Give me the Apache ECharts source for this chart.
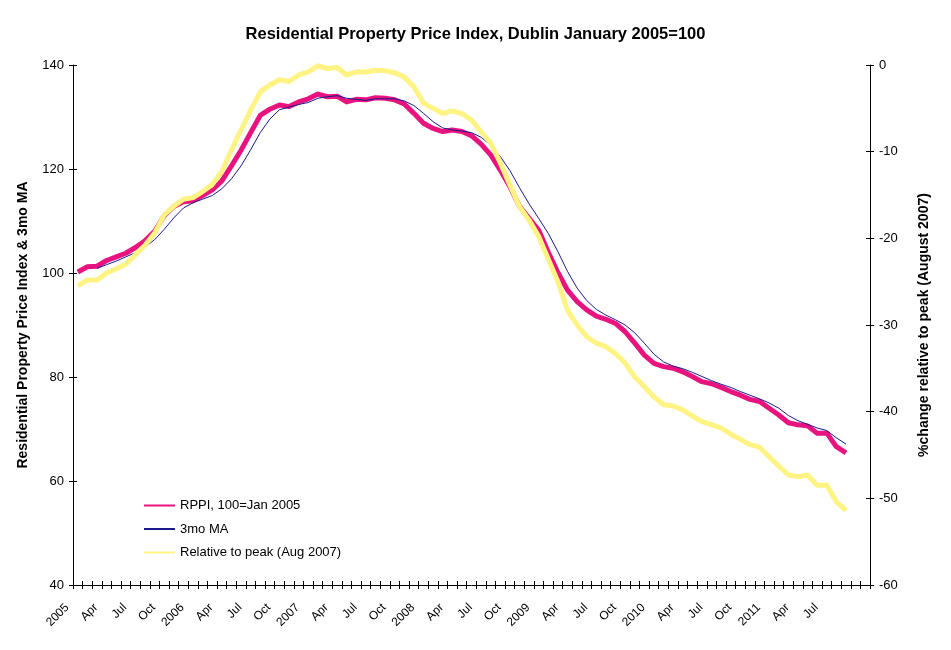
<!DOCTYPE html>
<html>
<head>
<meta charset="utf-8">
<script src="https://cdn.jsdelivr.net/npm/echarts@6/dist/echarts.min.js"></script>
<style>html,body{margin:0;padding:0;background:#fff;}#c{width:951px;height:650px;}</style>
</head>
<body>
<div id="c"></div>
<script>
var categories = [
 '2005','Feb','Mar','Apr','May','Jun','Jul','Aug','Sep','Oct','Nov','Dec',
 '2006','Feb','Mar','Apr','May','Jun','Jul','Aug','Sep','Oct','Nov','Dec',
 '2007','Feb','Mar','Apr','May','Jun','Jul','Aug','Sep','Oct','Nov','Dec',
 '2008','Feb','Mar','Apr','May','Jun','Jul','Aug','Sep','Oct','Nov','Dec',
 '2009','Feb','Mar','Apr','May','Jun','Jul','Aug','Sep','Oct','Nov','Dec',
 '2010','Feb','Mar','Apr','May','Jun','Jul','Aug','Sep','Oct','Nov','Dec',
 '2011','Feb','Mar','Apr','May','Jun','Jul','Aug','Sep','',''
];
var rppi = [
 100.2,101.2,101.3,102.4,103.1,103.8,104.9,106.2,108.0,111.0,112.8,113.7,
 113.9,114.9,116.0,117.7,120.6,123.6,127.0,130.3,131.5,132.3,132.0,132.9,
 133.5,134.4,133.9,134.0,132.9,133.4,133.3,133.7,133.6,133.3,132.5,130.7,
 128.8,127.8,127.2,127.5,127.2,126.4,124.8,122.7,119.8,116.6,112.8,110.5,
 108.2,104.0,100.1,96.7,94.5,92.9,91.7,91.1,90.3,88.7,86.5,84.2,
 82.6,82.0,81.7,81.0,80.1,79.1,78.7,78.0,77.2,76.5,75.7,75.3,
 74.0,72.7,71.2,70.8,70.6,69.2,69.2,66.6,65.4
];
var ma3 = [
 null,null,100.9,101.6,102.3,103.1,103.9,105.0,106.4,108.4,110.6,112.5,
 113.5,114.2,114.9,116.2,118.1,120.6,123.7,127.0,129.6,131.4,131.9,132.4,
 132.8,133.6,133.9,134.1,133.6,133.4,133.2,133.5,133.5,133.5,133.1,132.2,
 130.7,129.1,127.9,127.5,127.3,127.0,126.1,124.6,122.4,119.7,116.4,113.3,
 110.5,107.6,104.1,100.3,97.1,94.7,93.0,91.9,91.0,90.0,88.5,86.5,
 84.4,82.9,82.1,81.6,80.9,80.1,79.3,78.6,78.0,77.2,76.5,75.8,
 75.0,74.0,72.6,71.6,70.9,70.2,69.7,68.3,67.1
];
var relPeak = [
 -25.5,-24.8,-24.8,-24.0,-23.5,-23.0,-21.9,-20.8,-19.4,-17.3,-16.3,-15.5,
 -15.3,-14.6,-13.8,-12.3,-9.8,-7.5,-5.2,-3.1,-2.3,-1.7,-1.9,-1.15,
 -0.8,-0.1,-0.4,-0.3,-1.15,-0.8,-0.8,-0.6,-0.65,-0.9,-1.4,-2.5,
 -4.4,-5.0,-5.6,-5.3,-5.6,-6.35,-7.7,-9.0,-11.3,-13.85,-16.35,-17.9,
 -19.8,-22.4,-25.0,-28.3,-30.0,-31.35,-32.1,-32.5,-33.3,-34.4,-36.0,-37.1,
 -38.3,-39.2,-39.35,-39.8,-40.5,-41.15,-41.5,-41.9,-42.6,-43.2,-43.8,-44.1,
 -45.2,-46.3,-47.3,-47.5,-47.3,-48.5,-48.5,-50.4,-51.4
];
var seriesNames = ['RPPI, 100=Jan 2005', '3mo MA', 'Relative to peak (Aug 2007)'];

var FONT = '"Liberation Sans", Arial, sans-serif';
var chart = echarts.init(document.getElementById('c'));
var axisLine = {show: true, onZero: false, lineStyle: {color: '#000', width: 1}};
var tick = {show: true, length: 4, lineStyle: {color: '#000'}};
var gridBox = {left: 73, right: 81, top: 65, bottom: 65, containLabel: false};
chart.setOption({
  backgroundColor: '#fff',
  animation: false,
  title: {
    text: 'Residential Property Price Index, Dublin January 2005=100',
    left: 'center', top: 21,
    textStyle: {fontFamily: FONT, fontSize: 16.5, fontWeight: 'bold', color: '#000'}
  },
  legend: {
    orient: 'vertical', left: 143, top: 499, padding: 0, itemWidth: 31, itemHeight: 14, itemGap: 10.5,
    itemStyle: {opacity: 0},
    data: seriesNames,
    textStyle: {fontFamily: FONT, fontSize: 13, color: '#000'}
  },
  grid: [gridBox, Object.assign({}, gridBox)],
  xAxis: [{
    gridIndex: 0, type: 'category', data: categories, boundaryGap: true, position: 'bottom',
    axisLine: axisLine,
    axisTick: Object.assign({interval: 0}, tick),
    axisLabel: {interval: 2, rotate: 45, margin: 10, padding: [0, 15, 0, 0], fontFamily: FONT, fontSize: 12, color: '#000'},
    splitLine: {show: false}
  }, {
    gridIndex: 1, type: 'category', data: categories, boundaryGap: true, position: 'bottom',
    axisLine: {show: false, onZero: false},
    axisTick: Object.assign({interval: 0, inside: true}, tick),
    axisLabel: {show: false}, splitLine: {show: false}
  }],
  yAxis: [{
    gridIndex: 0, type: 'value', min: 40, max: 140, interval: 20, position: 'left',
    name: 'Residential Property Price Index & 3mo MA', nameLocation: 'middle', nameGap: 43, nameRotate: 90,
    nameTextStyle: {fontFamily: FONT, fontSize: 14, fontWeight: 'bold', color: '#000'},
    axisLine: axisLine, axisTick: tick,
    axisLabel: {margin: 9, fontFamily: FONT, fontSize: 13, color: '#000'},
    splitLine: {show: false}
  }, {
    gridIndex: 0, type: 'value', min: -60, max: 0, interval: 10, position: 'right',
    name: '%change relative to peak (August 2007)', nameLocation: 'middle', nameGap: 47, nameRotate: 90,
    nameTextStyle: {fontFamily: FONT, fontSize: 14, fontWeight: 'bold', color: '#000'},
    axisLine: axisLine, axisTick: tick,
    axisLabel: {margin: 9, fontFamily: FONT, fontSize: 13, color: '#000'},
    splitLine: {show: false}
  }, {
    gridIndex: 1, type: 'value', min: 40, max: 140, interval: 20, position: 'left',
    axisLine: {show: false, onZero: false}, axisTick: Object.assign({inside: true}, tick),
    axisLabel: {show: false}, splitLine: {show: false}
  }, {
    gridIndex: 1, type: 'value', min: -60, max: 0, interval: 10, position: 'right',
    axisLine: {show: false, onZero: false}, axisTick: Object.assign({inside: true}, tick),
    axisLabel: {show: false}, splitLine: {show: false}
  }],
  series: [{
    name: seriesNames[0], type: 'line', data: rppi, xAxisIndex: 0, yAxisIndex: 0,
    symbol: 'none', lineStyle: {color: '#e8137f', width: 5, join: 'round'}, itemStyle: {color: '#e8137f'}
  }, {
    name: seriesNames[1], type: 'line', data: ma3, xAxisIndex: 0, yAxisIndex: 0,
    symbol: 'none', lineStyle: {color: '#1a1a8c', width: 1}, itemStyle: {color: '#1a1a8c'}
  }, {
    name: seriesNames[2], type: 'line', data: relPeak, xAxisIndex: 0, yAxisIndex: 1,
    symbol: 'none', lineStyle: {color: '#fff383', width: 5, join: 'round'}, itemStyle: {color: '#fff383'}
  }]
});
</script>
</body>
</html>
